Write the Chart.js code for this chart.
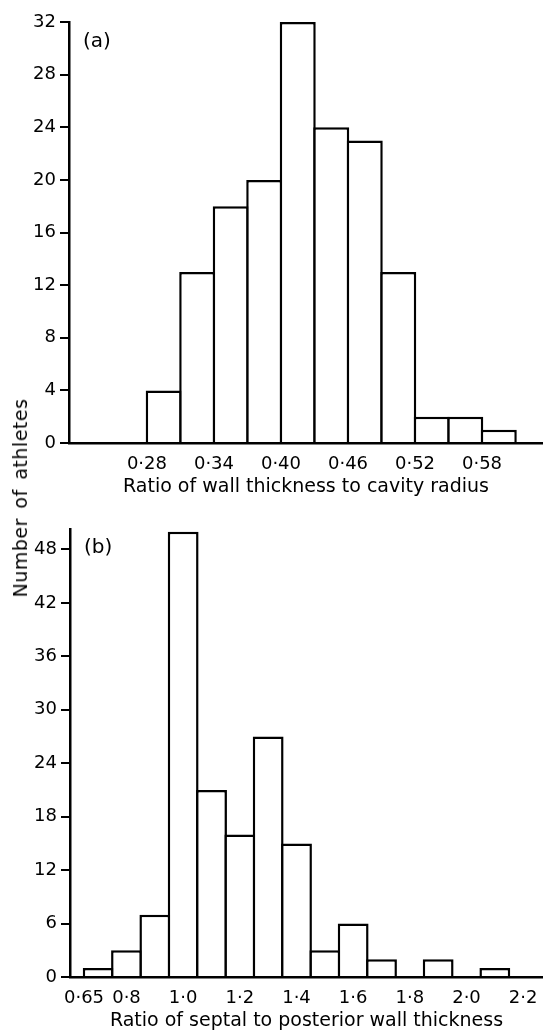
<!DOCTYPE html>
<html>
<head>
<meta charset="utf-8">
<script src="https://cdn.jsdelivr.net/npm/chart.js@4.4.1/dist/chart.umd.min.js"></script>
<style>
  html, body { margin: 0; padding: 0; background: #fff; }
  body { width: 543px; height: 1031px; position: relative; overflow: hidden; }
  .panel { position: absolute; left: 0; width: 543px; }
  #top { top: 0; height: 500px; }
  #bottom { top: 500px; height: 531px; }
  #ylabel {
    position: absolute; left: 20px; top: 498px;
    transform: translate(-50%, -50%) rotate(-90deg);
    font: 19px "DejaVu Sans"; color: #000; white-space: nowrap;
    letter-spacing: 0.5px; word-spacing: 3px;
  }
</style>
</head>
<body>
<div class="panel" id="top"><canvas id="chartA"></canvas></div>
<div class="panel" id="bottom"><canvas id="chartB"></canvas></div>
<div id="ylabel">Number of athletes</div>
<script>
// (a) ratio of wall thickness to cavity radius, bins 0.03 wide
const binCentersA = [0.295, 0.325, 0.355, 0.385, 0.415, 0.445, 0.475, 0.505, 0.535, 0.565, 0.595];
const countsA = [4, 13, 18, 20, 32, 24, 23, 13, 2, 2, 1];
const tickValuesA = [0.28, 0.34, 0.40, 0.46, 0.52, 0.58];
const tickLabelsA = ["0·28", "0·34", "0·40", "0·46", "0·52", "0·58"];

// (b) ratio of septal to posterior wall thickness, bins 0.1 wide
const binCentersB = [0.7, 0.8, 0.9, 1.0, 1.1, 1.2, 1.3, 1.4, 1.5, 1.6, 1.7, 1.8, 1.9, 2.0, 2.1];
const countsB = [1, 3, 7, 50, 21, 16, 27, 15, 3, 6, 2, 0, 2, 0, 1];
const tickValuesB = [0.65, 0.8, 1.0, 1.2, 1.4, 1.6, 1.8, 2.0, 2.2];
const tickLabelsB = ["0·65", "0·8", "1·0", "1·2", "1·4", "1·6", "1·8", "2·0", "2·2"];

const INK = "#000";
const FONT = "DejaVu Sans";

const panelLabel = {
  id: "panelLabel",
  afterDraw(chart, args, opts) {
    const { ctx, chartArea } = chart;
    ctx.save();
    ctx.fillStyle = INK;
    ctx.font = "20px " + FONT;
    ctx.textBaseline = "middle";
    ctx.fillText(opts.text, chartArea.left + 14, chartArea.top + opts.dy);
    ctx.restore();
  }
};

function makeChart(id, o) {
  return new Chart(document.getElementById(id), {
    type: "bar",
    data: {
      datasets: [{
        data: o.centers.map((c, i) => ({ x: c, y: o.counts[i] })),
        backgroundColor: "#fff",
        borderColor: INK,
        borderWidth: 2.5,
        borderSkipped: "bottom",
        categoryPercentage: 1,
        barPercentage: o.barPct,
        clip: false
      }]
    },
    options: {
      responsive: true,
      maintainAspectRatio: false,
      animation: false,
      layout: { padding: { top: o.padTop, left: 0, right: 0, bottom: 0 } },
      plugins: {
        legend: { display: false },
        tooltip: { enabled: false },
        panelLabel: { text: o.label, dy: o.labelDy }
      },
      scales: {
        x: {
          type: "linear",
          offset: false,
          min: o.xMin,
          max: o.xMax,
          afterBuildTicks: axis => { axis.ticks = o.tickValues.map(v => ({ value: v })); },
          afterFit: axis => { axis.height = o.xHeight; },
          grid: { display: false },
          border: { display: true, color: INK, width: 2.5 },
          ticks: {
            color: INK,
            padding: 3,
            maxRotation: 0,
            autoSkip: false,
            font: { family: FONT, size: 18 },
            callback: (v, i) => o.tickLabels[i]
          },
          title: {
            display: true,
            text: o.title,
            color: INK,
            font: { family: FONT, size: 19, lineHeight: 1 },
            padding: { top: 0, bottom: o.titlePad }
          }
        },
        y: {
          min: 0,
          max: o.yMax,
          afterFit: axis => { axis.width = o.yWidth; },
          grid: {
            display: true,
            drawOnChartArea: false,
            drawTicks: true,
            tickLength: 9,
            color: INK,
            lineWidth: 2
          },
          border: { display: true, color: INK, width: 2.5 },
          ticks: {
            stepSize: o.yStep,
            includeBounds: false,
            color: INK,
            padding: 4,
            font: { family: FONT, size: 18 }
          }
        }
      }
    },
    plugins: [panelLabel]
  });
}

makeChart("chartA", {
  centers: binCentersA, counts: countsA,
  tickValues: tickValuesA, tickLabels: tickLabelsA,
  xMin: 0.2102, xMax: 0.6346, yMax: 32, yStep: 4,
  barPct: 1.075, padTop: 22, xHeight: 57, yWidth: 69, titlePad: 3.5,
  title: "Ratio of wall thickness to cavity radius",
  label: "(a)", labelDy: 20
});

makeChart("chartB", {
  centers: binCentersB, counts: countsB,
  tickValues: tickValuesB, tickLabels: tickLabelsB,
  xMin: 0.6006, xMax: 2.27, yMax: 50.3, yStep: 6,
  barPct: 1.088, padTop: 29, xHeight: 54, yWidth: 70, titlePad: 0.5,
  title: "Ratio of septal to posterior wall thickness",
  label: "(b)", labelDy: 19
});
</script>
</body>
</html>
